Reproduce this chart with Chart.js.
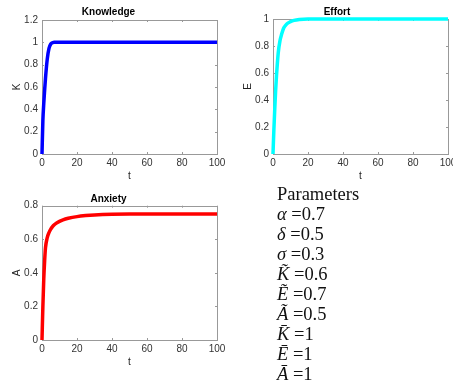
<!DOCTYPE html>
<html>
<head>
<meta charset="utf-8">
<script src="https://cdn.jsdelivr.net/npm/chart.js@4/dist/chart.umd.min.js"></script>
<style>
  html, body { margin:0; padding:0; background:#fff; width:453px; height:385px; overflow:hidden; }
  canvas { position:absolute; }
  #params { position:absolute; left:277px; top:184px; font-family:"Liberation Serif","Times New Roman",serif; font-size:18.5px; line-height:20px; color:#111; white-space:nowrap; }
  #params i { font-style:italic; }
</style>
</head>
<body>
<canvas id="cK" width="230" height="185" style="left:0;top:0"></canvas>
<canvas id="cE" width="227" height="185" style="left:226px;top:0"></canvas>
<canvas id="cA" width="230" height="200" style="left:0;top:185px"></canvas>
<div id="params">
  <div>Parameters</div>
  <div><i>α</i> =0.7</div>
  <div><i>δ</i> =0.5</div>
  <div><i>σ</i> =0.3</div>
  <div><i>K&#771;</i> =0.6</div>
  <div><i>E&#771;</i> =0.7</div>
  <div><i>A&#771;</i> =0.5</div>
  <div><i>K&#772;</i> =1</div>
  <div><i>E&#772;</i> =1</div>
  <div><i>A&#772;</i> =1</div>
</div>
<script>
// ---- data ----
const tValues = [0,0.5,1,1.5,2,3,4,5,6,7,8,10,12,15,20,25,30,40,50,60,70,80,90,100];
const knowledge = [0,0.30,0.45,0.57,0.68,0.85,0.945,0.985,0.996,1,1,1,1,1,1,1,1,1,1,1,1,1,1,1];
const effort = [0,0.18,0.33,0.47,0.58,0.75,0.84,0.89,0.93,0.95,0.965,0.98,0.99,0.997,1,1,1,1,1,1,1,1,1,1];
const anxiety = [0,0.20,0.36,0.47,0.55,0.61,0.64,0.66,0.675,0.686,0.695,0.707,0.716,0.725,0.735,0.741,0.745,0.749,0.75,0.75,0.75,0.75,0.75,0.75];
const xTicks = [0,20,40,60,80,100];
const titles = ['Knowledge','Effort','Anxiety'];
const yLabels = ['K','E','A'];
const xLabel = 't';

const FONT = '"Liberation Sans", Arial, Helvetica, sans-serif';

const boxPlugin = {
  id: 'matlabBox',
  beforeDatasetsDraw(chart) {
    const {ctx, chartArea: a, scales} = chart;
    ctx.save();
    ctx.strokeStyle = '#999';
    ctx.lineWidth = 1;
    ctx.strokeRect(Math.round(a.left) + 0.5, Math.round(a.top) + 0.5, Math.round(a.right - a.left), Math.round(a.bottom - a.top));
    const L = 2;
    ctx.beginPath();
    scales.x.ticks.forEach(t => {
      const px = Math.round(scales.x.getPixelForValue(t.value)) + 0.5;
      ctx.moveTo(px, a.bottom); ctx.lineTo(px, a.bottom - L);
      ctx.moveTo(px, a.top); ctx.lineTo(px, a.top + L);
    });
    scales.y.ticks.forEach(t => {
      const py = Math.round(scales.y.getPixelForValue(t.value)) + 0.5;
      ctx.moveTo(a.left, py); ctx.lineTo(a.left + L, py);
      ctx.moveTo(a.right, py); ctx.lineTo(a.right - L, py);
    });
    ctx.stroke();
    ctx.restore();
  }
};

function makeChart(id, idx, values, color, cfg) {
  const pts = tValues.map((t, i) => ({x: t, y: values[i]}));
  return new Chart(document.getElementById(id), {
    type: 'line',
    data: { datasets: [{ data: pts, borderColor: color, borderWidth: 3.5, pointRadius: 0, cubicInterpolationMode: 'monotone', fill: false, clip: 6 }] },
    options: {
      responsive: false, animation: false, devicePixelRatio: 1,
      layout: { padding: { left: 0, right: cfg.padRight, top: 0, bottom: 0 } },
      plugins: {
        legend: { display: false }, tooltip: { enabled: false },
        title: { display: true, text: titles[idx], color: '#000', font: { family: FONT, size: 10, weight: 'bold', lineHeight: 1.2 }, padding: { top: cfg.titleTop, bottom: cfg.titleBottom } }
      },
      scales: {
        x: {
          type: 'linear', min: 0, max: 100,
          afterBuildTicks: s => { s.ticks = xTicks.map(v => ({value: v})); },
          ticks: { color: '#333', font: { family: FONT, size: 10 }, padding: 3, maxRotation: 0, autoSkip: false },
          grid: { display: false, drawTicks: false },
          border: { display: false },
          title: { display: true, text: xLabel, color: '#222', font: { family: FONT, size: 10, lineHeight: 1.2 }, padding: { top: 0, bottom: cfg.xTitleBottom } },
          afterFit: s => { s.height = cfg.xHeight; s.paddingLeft = 0; s.paddingRight = 0; }
        },
        y: {
          type: 'linear', min: 0, max: cfg.yMax,
          ticks: { stepSize: 0.2, color: '#333', font: { family: FONT, size: 10 }, padding: 4,
                   callback: v => String(Math.round(v * 10) / 10) },
          grid: { display: false, drawTicks: false },
          border: { display: false },
          title: { display: true, text: yLabels[idx], color: '#222', font: { family: FONT, size: 10, lineHeight: 1.2 }, padding: { top: cfg.yTitleTop, bottom: 0 } },
          afterFit: s => { s.width = cfg.yWidth; s.paddingTop = 0; s.paddingBottom = 0; }
        }
      }
    },
    plugins: [boxPlugin]
  });
}

makeChart('cK', 0, knowledge, '#0000ff', { yMax: 1.2, padRight: 13, titleTop: 6.5, titleBottom: 1.5, xHeight: 31, xTitleBottom: 3, yWidth: 42, yTitleTop: 11 });
makeChart('cE', 1, effort, '#00ffff', { yMax: 1.0, padRight: 5, titleTop: 6.7, titleBottom: 0.3, xHeight: 31, xTitleBottom: 3, yWidth: 47, yTitleTop: 16 });
makeChart('cA', 2, anxiety, '#ff0000', { yMax: 0.8, padRight: 13, titleTop: 8, titleBottom: 0.7, xHeight: 45, xTitleBottom: 17, yWidth: 42, yTitleTop: 11 });
</script>
</body>
</html>
